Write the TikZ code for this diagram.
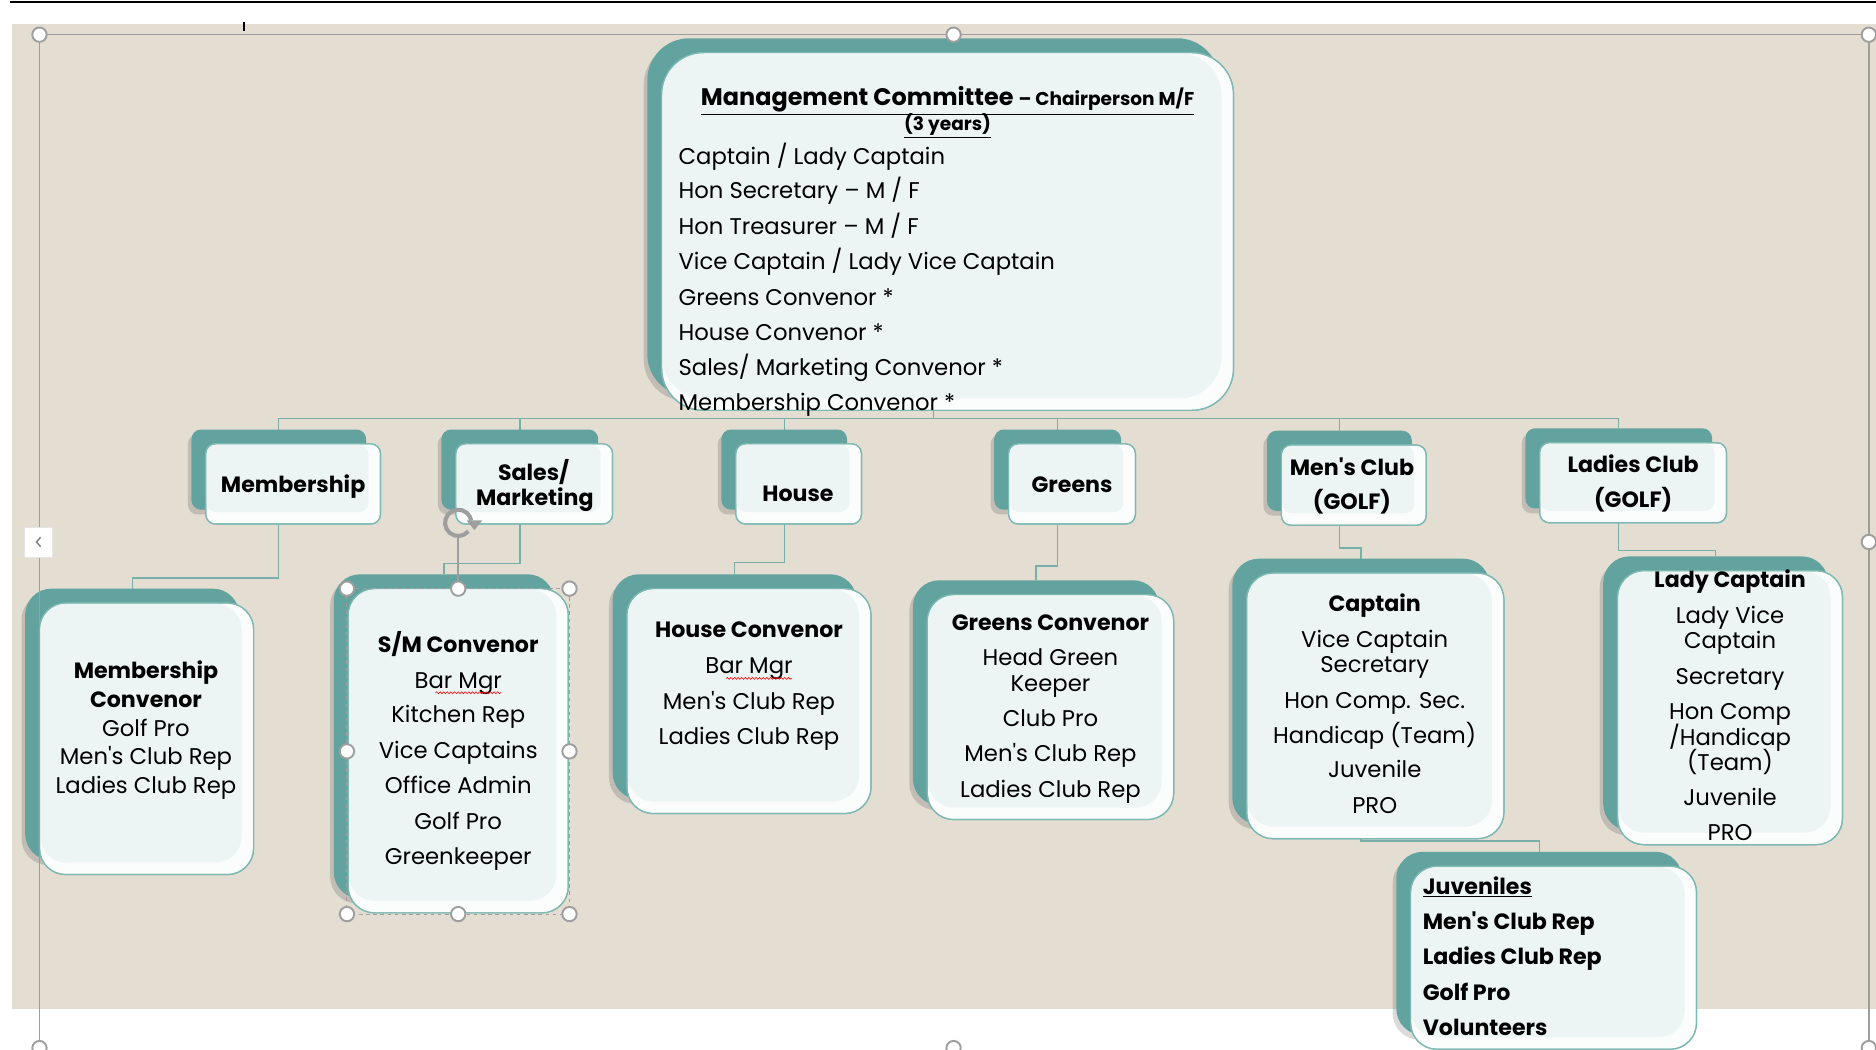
\documentclass[tikz,border=0pt]{standalone}
\usepackage{fontspec}
\setmainfont{Poppins}[Ligatures=TeXOff]
\usetikzlibrary{calc,decorations.pathmorphing,arrows.meta}
\definecolor{beigebg}{HTML}{E3DDD2}
\definecolor{tealback}{HTML}{62A39F}
\definecolor{frontfill}{HTML}{FBFDFD}
\definecolor{innerfill}{HTML}{EDF5F4}
\definecolor{frontline}{HTML}{7DB8B3}
\definecolor{connline}{HTML}{7AAEA9}
\definecolor{framegray}{HTML}{9E9E9E}
\pgfdeclarelayer{bgfill}
\pgfdeclarelayer{connlayer}
\pgfsetlayers{bgfill,connlayer,main}
\newcommand\orgbox[6]{%
  \fill[black,opacity=.14,rounded corners=#6] ({#2-15},{#3-8}) rectangle ({#4-14},{#5-8});
  \node[backbox,rounded corners=#6,minimum width={#4-#2},minimum height={#5-#3}] (#1B) at ({(#2+#4)/2-12},{(#3+#5)/2-12}) {};
  \node[frontbox,rounded corners=#6,minimum width={#4-#2},minimum height={#5-#3}] (#1) at ({(#2+#4)/2},{(#3+#5)/2}) {};
  \fill[innerfill,rounded corners=#6] ({#2+0.5},{#3+0.5}) rectangle ({#4-10},{#5-10});
  \draw[frontline,line width=1pt,rounded corners=#6] (#1.north west) rectangle (#1.south east);
}
\begin{document}
\begin{tikzpicture}[x=1pt,y=-1pt,
  backbox/.style={draw=none,fill=tealback,inner sep=0pt,outer sep=0pt},
  frontbox/.style={draw=frontline,line width=1pt,fill=frontfill,inner sep=0pt,outer sep=0pt},
  conn/.style={draw=connline,line width=1.1pt},
  txt/.style={anchor=mid,inner sep=0pt,yshift=-4.5pt,font=\fontsize{19}{22}\selectfont},
  ltxt/.style={anchor=mid west,inner sep=0pt,yshift=-4.5pt,font=\fontsize{19}{22}\selectfont},
  btxt/.style={anchor=mid,inner sep=0pt,yshift=-4.5pt,font=\fontsize{18.5}{22}\selectfont\bfseries},
  bltxt/.style={anchor=mid west,inner sep=0pt,yshift=-4.5pt,font=\fontsize{18.5}{22}\selectfont\bfseries},
  handle/.style={circle,draw=framegray,fill=white,line width=1.6pt,minimum size=12pt,inner sep=0pt},
  squig/.style={red,line width=.5pt,decorate,decoration={snake,amplitude=.8pt,segment length=3pt}}]
\useasboundingbox (0,0) rectangle (1568,877);
\begin{pgfonlayer}{bgfill}
  \fill[white] (0,0) rectangle (1568,877);
  \fill[beigebg] (10,20) rectangle (1568,843);
  \draw[black,line width=1.6pt] (8,2) -- (1568,2);
  \draw[black,line width=1.6pt] (204,18) -- (204,26);
\end{pgfonlayer}

% ---------- boxes ----------
\orgbox{mgmt}{553}{44}{1031}{343}{35}
\orgbox{memT}{172}{371}{318}{438}{8}
\orgbox{salT}{381}{371}{512}{438}{8}
\orgbox{houT}{615}{371}{720}{438}{8}
\orgbox{greT}{843}{371}{949}{438}{8}
\orgbox{menT}{1071}{372}{1192}{439}{8}
\orgbox{ladT}{1287}{370}{1443}{437}{8}
\orgbox{memC}{33}{504}{212}{731}{22}
\orgbox{smC}{291}{492}{475}{763}{22}
\orgbox{houC}{524}{492}{728}{680}{22}
\orgbox{greC}{775}{497}{981}{685}{22}
\orgbox{capC}{1042}{479}{1257}{701}{22}
\orgbox{ladC}{1352}{477}{1540}{706}{22}
\orgbox{juv}{1179}{724}{1418}{877}{22}

% ---------- connectors ----------
\begin{pgfonlayer}{connlayer}
  \coordinate (bus) at (0,350);
  \draw[conn] (mgmtB.south) -- (mgmtB.south |- bus) -| (memTB.north);
  \draw[conn] (mgmtB.south) -- (mgmtB.south |- bus) -| (salTB.north);
  \draw[conn] (mgmtB.south) -- (mgmtB.south |- bus) -| (houTB.north);
  \draw[conn] (mgmtB.south) -- (mgmtB.south |- bus) -| (greTB.north);
  \draw[conn] (mgmtB.south) -- (mgmtB.south |- bus) -| (menTB.north);
  \draw[conn] (mgmtB.south) -- (mgmtB.south |- bus) -| (ladTB.north);
  \draw[conn] (memTB.south) -- (memTB.south |- 0,483) -| (memCB.north);
  \draw[conn] (salTB.south) -- (salTB.south |- 0,471) -| (smCB.north);
  \draw[conn] (houTB.south) -- (houTB.south |- 0,470) -| (houCB.north);
  \draw[conn] (greTB.south) -- (greTB.south |- 0,473) -| (greCB.north);
  \draw[conn] (menTB.south) -- (menTB.south |- 0,458) -| (capCB.north);
  \draw[conn] (ladTB.south) -- (ladTB.south |- 0,460) -| (ladCB.north);
  \draw[conn] (capCB.south) -- (capCB.south |- 0,703) -| (juvB.north);
\end{pgfonlayer}

% ---------- management text ----------
\node[anchor=mid,inner sep=0pt,yshift=-4.5pt] (mgT1) at (792,81) {\underline{\fontsize{20}{24}\selectfont\bfseries Management Committee {\fontsize{15.5}{19}\selectfont – Chairperson M/F}}};
\node[anchor=mid,inner sep=0pt,yshift=-4.5pt] (mgT2) at (792,102) {\underline{\fontsize{15.5}{19}\selectfont\bfseries (3 years)}};
\node[ltxt] (mg1) at (567,130) {Captain / Lady Captain};
\node[ltxt] (mg2) at (567,159) {Hon Secretary – M / F};
\node[ltxt] (mg3) at (567,189) {Hon Treasurer – M / F};
\node[ltxt] (mg4) at (567,218) {Vice Captain / Lady Vice Captain};
\node[ltxt] (mg5) at (567,248) {Greens Convenor *};
\node[ltxt] (mg6) at (567,277) {House Convenor *};
\node[ltxt] (mg7) at (567,307) {Sales/ Marketing Convenor *};
\node[ltxt] (mg8) at (567,336) {Membership Convenor *};

% ---------- tier 2 text ----------
\node[btxt] (t1) at (245,404) {Membership};
\node[btxt] (t2a) at (446,394) {Sales/};
\node[btxt] (t2b) at (447,415) {Marketing};
\node[btxt] (t3) at (667,412) {House};
\node[btxt] (t4) at (896,404) {Greens};
\node[btxt] (t5a) at (1130,390) {Men's Club};
\node[btxt] (t5b) at (1130,419) {(GOLF)};
\node[btxt] (t6a) at (1365,388) {Ladies Club};
\node[btxt] (t6b) at (1365,417) {(GOLF)};

% ---------- tier 3 text ----------
\node[btxt] (m1) at (122,560) {Membership};
\node[btxt] (m2) at (122,584) {Convenor};
\node[txt] (m3) at (122,608) {Golf Pro};
\node[txt] (m4) at (122,632) {Men's Club Rep};
\node[txt] (m5) at (122,656) {Ladies Club Rep};

\node[btxt] (s1) at (383,538) {S/M Convenor};
\node[txt] (s2) at (383,568) {Bar Mgr};
\node[txt] (s3) at (383,597) {Kitchen Rep};
\node[txt] (s4) at (383,627) {Vice Captains};
\node[txt] (s5) at (383,656) {Office Admin};
\node[txt] (s6) at (383,686) {Golf Pro};
\node[txt] (s7) at (383,715) {Greenkeeper};
\draw[squig] (364,579) -- (419,579);

\node[btxt] (h1) at (626,526) {House Convenor};
\node[txt] (h2) at (626,556) {Bar Mgr};
\node[txt] (h3) at (626,586) {Men's Club Rep};
\node[txt] (h4) at (626,615) {Ladies Club Rep};
\draw[squig] (607,567) -- (662,567);

\node[btxt] (g1) at (878,520) {Greens Convenor};
\node[txt] (g2) at (878,549) {Head Green};
\node[txt] (g3) at (878,571) {Keeper};
\node[txt] (g4) at (878,600) {Club Pro};
\node[txt] (g5) at (878,629) {Men's Club Rep};
\node[txt] (g6) at (878,659) {Ladies Club Rep};

\node[btxt] (c1) at (1149,504) {Captain};
\node[txt] (c2) at (1149,534) {Vice Captain};
\node[txt] (c3) at (1149,555) {Secretary};
\node[txt] (c4) at (1149,585) {Hon Comp. Sec.};
\node[txt] (c5) at (1149,614) {Handicap (Team)};
\node[txt] (c6) at (1149,643) {Juvenile};
\node[txt] (c7) at (1149,673) {PRO};

\node[btxt] (l1) at (1446,484) {Lady Captain};
\node[txt] (l2) at (1446,514) {Lady Vice};
\node[txt] (l3) at (1446,535) {Captain};
\node[txt] (l4) at (1446,565) {Secretary};
\node[txt] (l5) at (1446,594) {Hon Comp};
\node[txt] (l6) at (1446,616) {/Handicap};
\node[txt] (l7) at (1446,637) {(Team)};
\node[txt] (l8) at (1446,666) {Juvenile};
\node[txt] (l9) at (1446,695) {PRO};

\node[bltxt] (j1) at (1189,740) {\underline{Juveniles}};
\node[bltxt] (j2) at (1189,770) {Men's Club Rep};
\node[bltxt] (j3) at (1189,799) {Ladies Club Rep};
\node[bltxt] (j4) at (1189,829) {Golf Pro};
\node[bltxt] (j5) at (1189,858) {Volunteers};

% ---------- selection frame & handles ----------
\draw[framegray,line width=1.3pt] (33,29) -- (1562,29);
\draw[framegray,line width=1.3pt] (33,29) -- (33,880);
\draw[framegray,line width=1.3pt] (1562,29) -- (1562,880);
\node[handle] (h-tl) at (33,29) {};
\node[handle] (h-tm) at (797,29) {};
\node[handle] (h-tr) at (1562,29) {};
\node[handle] (h-rm) at (1562,453) {};
\node[handle] (h-bl) at (33,876) {};
\node[handle] (h-bm) at (797,876) {};
\node[handle] (h-br) at (1562,876) {};
\node[draw=white!90!black,fill=white,minimum width=24pt,minimum height=25pt,inner sep=0pt] (lbtn) at (32,453) {};
\draw[gray,line width=1.2pt] (34,449) -- (30.5,453) -- (34,457);

\draw[framegray,line width=.8pt,dashed] (290,492) rectangle (476,764);
\draw[framegray,line width=1.6pt] (383,448) -- (383,492);
\draw[framegray,line width=3.4pt] (383,437) ++(40:11) arc[start angle=40,end angle=350,radius=11];
\fill[framegray] (390,435) -- (403,435) -- (396.5,443) -- cycle;
\node[handle] (s-tl) at (290,492) {};
\node[handle] (s-tm) at (383,492) {};
\node[handle] (s-tr) at (476,492) {};
\node[handle] (s-ml) at (290,628) {};
\node[handle] (s-mr) at (476,628) {};
\node[handle] (s-bl) at (290,764) {};
\node[handle] (s-bm) at (383,764) {};
\node[handle] (s-br) at (476,764) {};
\end{tikzpicture}
\end{document}
